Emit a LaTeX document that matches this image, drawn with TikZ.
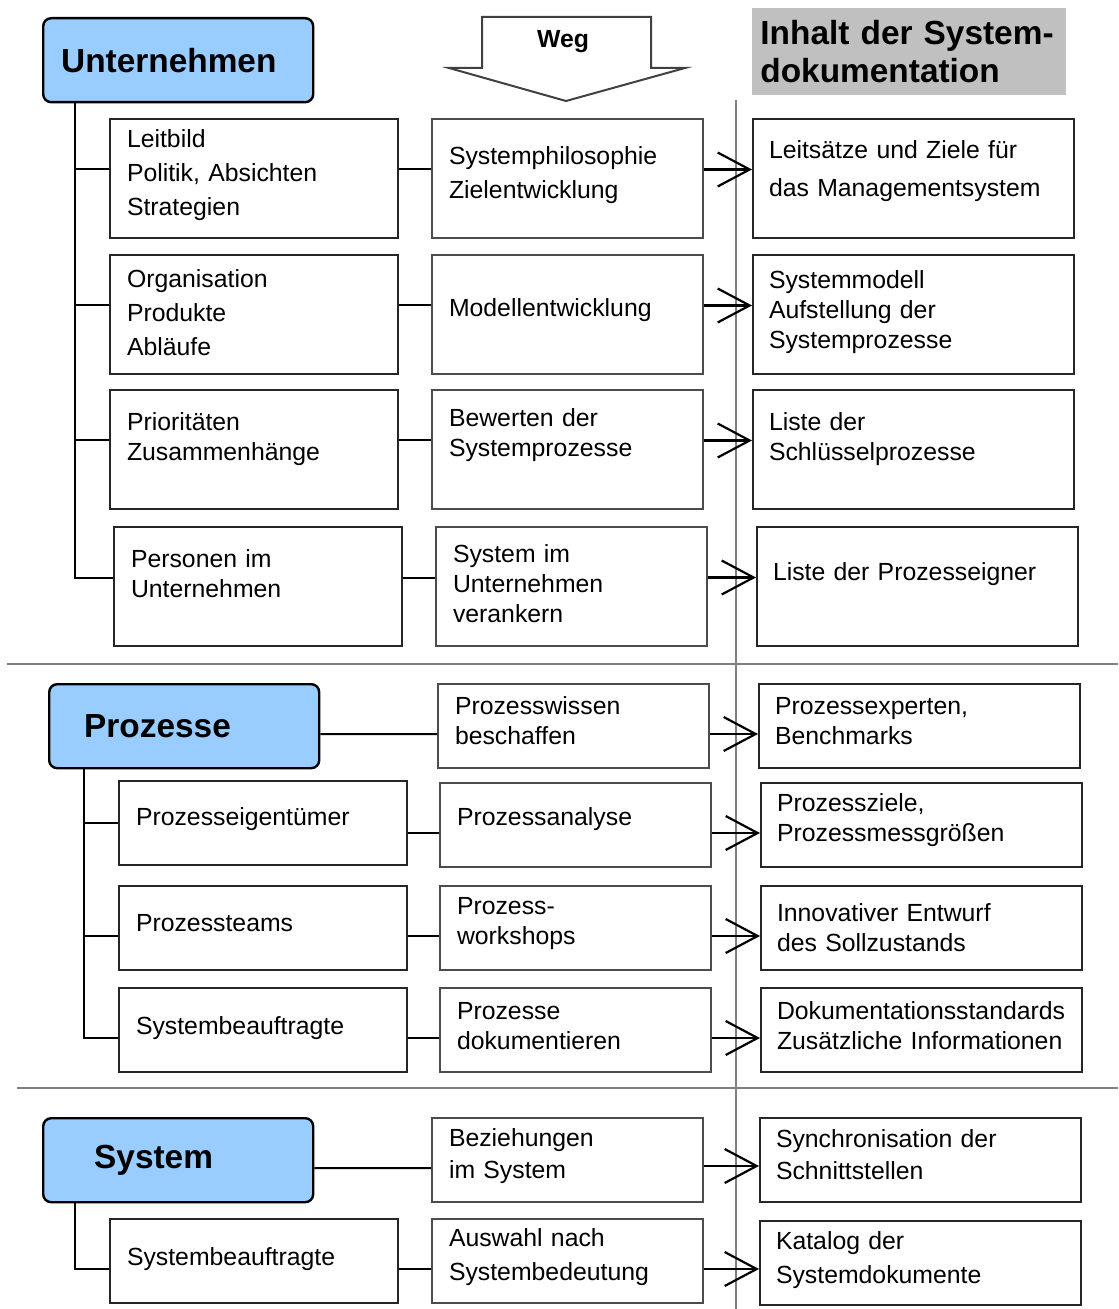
\documentclass[tikz,border=0pt]{standalone}
\usepackage{fontspec}
\setmainfont{Liberation Sans}
\usepackage{xcolor}
\definecolor{titelblau}{HTML}{99CCFF}
\definecolor{kopfgrau}{HTML}{C0C0C0}
\newcommand\boxfont{\fontsize{12.4}{15}\selectfont}
\newcommand\titelfont{\fontsize{16.7}{19}\selectfont\bfseries}
\newcommand\unterkern[1]{\par\kern#1}
\usetikzlibrary{arrows.meta}

\begin{document}
\begin{tikzpicture}[
  x=0.5pt, y=-0.5pt,
  hebe/.style={execute at end node={\unterkern{#1}}},
  feld/.style={draw=black!85, line width=1pt, anchor=north west, align=left,
    font=\boxfont, inner ysep=0pt},
  links/.style={feld, minimum width=144pt, text width=127pt, inner xsep=8.5pt},
  mitte/.style={feld, draw=black!70, minimum width=135.5pt, text width=118.5pt, inner xsep=8.5pt},
  rechts/.style={feld, minimum width=160.5pt, text width=144.5pt, inner xsep=8pt},
  hoch/.style={minimum height=59.5pt},
  flach/.style={minimum height=42pt},
  titel/.style={draw, line width=1.2pt, rounded corners=4pt, fill=titelblau, anchor=north west,
    minimum width=135pt, minimum height=42pt, font=\titelfont, align=left},
  ast/.style={line width=1pt},
  pfeil/.style={line width=1.1pt, -{Straight Barb[length=16pt, width=17pt]}},
  trenn/.style={draw=black!50, line width=0.6pt},
]
  \useasboundingbox (0,0) rectangle (1118,1309);

  % Trennlinien
  \draw[trenn] (736,100) -- (736,1309);
  \draw[trenn] (7,664) -- (1118,664);
  \draw[trenn] (17,1088) -- (1118,1088);

  % Kopf
  \node[titel, inner xsep=9pt, text width=117pt] (unt) at (42,17) {Unternehmen};
  \draw[line width=1pt, draw=black!75] (482,68) -- (482,17) -- (651,17) -- (651,68)
    -- (685,68) -- (566,101) -- (449,68) -- cycle;
  \node[font=\boxfont\bfseries] (weg) at (563,42) {Weg};
  \node[fill=kopfgrau, anchor=north west, minimum width=157pt, minimum height=43.5pt,
    inner xsep=4pt, text width=149pt, align=left, font=\titelfont] (inhalt) at (752,8)
    {Inhalt der System-\\dokumentation};

  % Unternehmen
  \node[links, hoch, hebe=3pt] (l1) at (109,118) {Leitbild\\[2pt]Politik, Absichten\\[2pt]Strategien};
  \node[mitte, hoch, hebe=3.5pt] (m1) at (431,118) {Systemphilosophie\\[2pt]Zielentwicklung};
  \node[rechts, hoch, hebe=7pt] (r1) at (752,118) {Leitsätze und Ziele für\\[4pt]das Managementsystem};

  \node[links, hoch, hebe=2pt] (l2) at (109,254) {Organisation\\[2pt]Produkte\\[2pt]Abläufe};
  \node[mitte, hoch, hebe=4pt] (m2) at (431,254) {Modellentwicklung};
  \node[rechts, hoch, hebe=2pt] (r2) at (752,254) {Systemmodell\\Aufstellung der\\Systemprozesse};

  \node[links, hoch, hebe=10pt] (l3) at (109,389) {Prioritäten\\Zusammenhänge};
  \node[mitte, hoch, hebe=14pt] (m3) at (431,389) {Bewerten der\\Systemprozesse};
  \node[rechts, hoch, hebe=10pt] (r3) at (752,389) {Liste der\\Schlüsselprozesse};

  \node[links, hoch, hebe=13pt] (l4) at (113,526) {Personen im\\Unternehmen};
  \node[mitte, hoch, hebe=3pt] (m4) at (435,526) {System im\\Unternehmen\\verankern};
  \node[rechts, hoch, hebe=12pt] (r4) at (756,526) {Liste der Prozesseigner};

  \foreach \i in {1,...,4} {
    \draw[ast] ([xshift=16.5pt]unt.south west) |- ([yshift=4.5pt]l\i.west);
    \draw[ast] ([yshift=4.5pt]l\i.east) -- ([yshift=4.5pt]m\i.west);
    \draw[pfeil] ([yshift=4.5pt]m\i.east) -- ([yshift=4.5pt]r\i.west);
  }

  % Prozesse
  \node[titel, inner xsep=17.5pt, text width=100pt] (proz) at (48,683) {Prozesse};
  \node[mitte, flach, hebe=5pt] (m5) at (437,683) {Prozesswissen\\beschaffen};
  \node[rechts, flach, hebe=5pt] (r5) at (758,683) {Prozessexperten,\\Benchmarks};

  \node[links, flach, hebe=4pt] (l6) at (118,780) {Prozesseigentümer};
  \node[mitte, flach, hebe=6pt] (m6) at (439,782) {Prozessanalyse};
  \node[rechts, flach, hebe=5pt] (r6) at (760,782) {Prozessziele,\\Prozessmessgrößen};

  \node[links, flach, hebe=5pt] (l7) at (118,885) {Prozessteams};
  \node[mitte, flach, hebe=4.5pt] (m7) at (439,885) {Prozess-\\workshops};
  \node[rechts, flach] (r7) at (760,885) {Innovativer Entwurf\\des Sollzustands};

  \node[links, flach, hebe=2pt] (l8) at (118,987) {Systembeauftragte};
  \node[mitte, flach, hebe=4pt] (m8) at (439,987) {Prozesse\\dokumentieren};
  \node[rechts, flach, hebe=4pt] (r8) at (760,987) {Dokumentationsstandards\\Zusätzliche Informationen};

  \draw[ast] ([yshift=-4pt]proz.east) -- ([yshift=-4pt]m5.west);
  \draw[pfeil] ([yshift=-4pt]m5.east) -- ([yshift=-4pt]r5.west);
  \draw[ast] ([xshift=18pt]proz.south west) |- (l6.west);
  \foreach \i in {7,8}
    \draw[ast] ([xshift=18pt]proz.south west) |- ([yshift=-4pt]l\i.west);
  \foreach \i in {6,7,8} {
    \draw[ast] ([yshift=-4pt]m\i.west -| l\i.east) -- ([yshift=-4pt]m\i.west);
    \draw[pfeil] ([yshift=-4pt]m\i.east) -- ([yshift=-4pt]r\i.west);
  }

  % System
  \node[titel, inner xsep=25.5pt, text width=84pt] (sys) at (42,1117) {System};
  \node[mitte, flach, hebe=4pt] (m9) at (431,1117) {Beziehungen\\[1pt]im System};
  \node[rechts, flach, hebe=5pt] (r9) at (759,1117) {Synchronisation der\\[1pt]Schnittstellen};

  \node[links, flach, hebe=2pt] (l10) at (109,1218) {Systembeauftragte};
  \node[mitte, flach, hebe=4pt] (m10) at (431,1218) {Auswahl nach\\[2pt]Systembedeutung};
  \node[rechts, flach, hebe=3pt] (r10) at (759,1220) {Katalog der\\[2pt]Systemdokumente};

  \draw[ast] ([yshift=-4pt]sys.east) -- ([yshift=-4pt]m9.west);
  \draw[pfeil] ([yshift=-3pt]m9.east) -- ([yshift=-3pt]r9.west);
  \draw[ast] ([xshift=16.5pt]sys.south west) |- ([yshift=-4pt]l10.west);
  \draw[ast] ([yshift=-4pt]l10.east) -- ([yshift=-4pt]m10.west);
  \draw[pfeil] ([yshift=-4pt]m10.east) -- ([yshift=-4pt]m10.east -| r10.west);
\end{tikzpicture}
\end{document}
